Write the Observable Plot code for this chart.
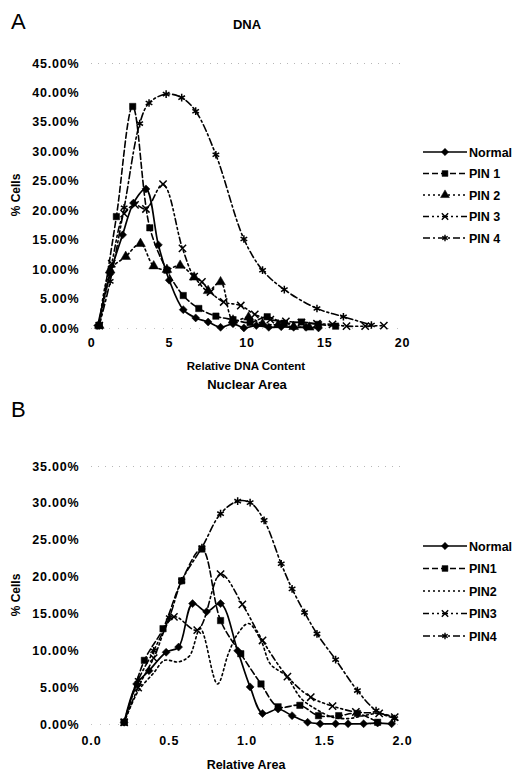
<!DOCTYPE html>
<html>
<head>
<meta charset="utf-8">
<script src="https://cdn.jsdelivr.net/npm/d3@7"></script>
<script src="https://cdn.jsdelivr.net/npm/@observablehq/plot@0.6"></script>
<style>
  html, body { margin: 0; padding: 0; background: #fff; }
  #page { position: relative; width: 521px; height: 777px; background: #fff; overflow: hidden; }
  .plot { position: absolute; left: 0; }
  #overlay { position: absolute; left: 0; top: 0; pointer-events: none; }
  .plot svg text { letter-spacing: 0.8px; }
</style>
</head>
<body>
<div id="page">
  <div id="dna" class="plot" style="top:0px"></div>
  <div id="area" class="plot" style="top:390px"></div>
</div>
<script>
// ---------- Panel A: DNA ----------
const dnaSeries = ["Normal", "PIN 1", "PIN 2", "PIN 3", "PIN 4"];
const dnaTicksX = [0, 5, 10, 15, 20];
const dnaTicksY = [0, 5, 10, 15, 20, 25, 30, 35, 40, 45];

const dnaNormalX = [0.4, 1.2, 2.0, 2.7, 3.5, 4.3, 5.0, 5.9, 6.7, 7.5, 8.3, 9.1, 9.8, 10.6, 11.4, 12.2, 13.0, 13.8, 14.6];
const dnaNormalY = [0.5, 9.3, 15.9, 21.3, 23.7, 14.2, 8.2, 3.2, 1.8, 1.1, 0.2, 0.8, 0.1, 0.5, 0.2, 0.3, 0.2, 0.2, 0.1];

const dnaPin1X = [0.5, 1.6, 2.65, 3.75, 4.85, 5.9, 6.9, 8.0, 9.1, 10.2, 11.3, 12.4, 13.5, 14.6, 15.7];
const dnaPin1Y = [0.5, 19.0, 37.7, 17.1, 9.9, 5.6, 3.4, 2.1, 1.5, 1.0, 2.0, 0.9, 1.1, 0.7, 0.4];

const dnaPin2X = [0.5, 1.2, 2.2, 3.15, 4.0, 4.85, 5.7, 6.6, 7.5, 8.3, 9.1, 10.1, 11.0, 12.0, 13.0, 14.0];
const dnaPin2Y = [0.5, 9.9, 12.2, 14.4, 10.6, 10.0, 10.7, 8.7, 6.4, 7.9, 1.4, 1.9, 0.8, 0.6, 0.3, 0.2];

const dnaPin3X = [0.5, 1.3, 2.1, 2.8, 3.5, 4.6, 5.85, 6.6, 7.1, 7.65, 8.5, 9.6, 10.5, 11.5, 12.5, 13.5, 14.5, 15.5, 16.4, 17.6, 18.8];
const dnaPin3Y = [0.5, 11.0, 19.5, 21.0, 20.3, 24.5, 13.6, 8.8, 7.9, 6.2, 4.5, 3.9, 2.4, 1.5, 1.2, 1.0, 0.8, 0.7, 0.4, 0.4, 0.5];

const dnaPin4X = [0.5, 1.2, 2.1, 3.1, 3.7, 4.8, 5.8, 6.7, 8.0, 9.8, 11.0, 12.4, 14.5, 16.2, 18.0];
const dnaPin4Y = [0.5, 8.0, 20.5, 34.8, 38.3, 39.8, 39.2, 36.9, 29.5, 15.2, 9.9, 6.6, 3.4, 2.0, 0.6];

// ---------- Panel B: Nuclear Area ----------
const areaSeries = ["Normal", "PIN1", "PIN2", "PIN3", "PIN4"];
const areaTicksX = [0, 0.5, 1, 1.5, 2];
const areaTicksY = [0, 5, 10, 15, 20, 25, 30, 35];

const areaNormalX = [0.21, 0.29, 0.37, 0.48, 0.56, 0.65, 0.74, 0.83, 0.94, 1.02, 1.10, 1.20, 1.29, 1.39, 1.47, 1.57, 1.65, 1.75, 1.84, 1.93];
const areaNormalY = [0.3, 5.5, 7.3, 9.8, 10.5, 16.4, 15.3, 16.4, 10.0, 5.1, 1.5, 2.1, 1.2, 0.3, 0.1, 0.1, 0.1, 0.1, 0.2, 0.1];

const areaPin1X = [0.21, 0.34, 0.46, 0.58, 0.71, 0.83, 0.96, 1.09, 1.20, 1.34, 1.46, 1.59, 1.71, 1.84];
const areaPin1Y = [0.3, 8.7, 13.0, 19.5, 23.8, 14.1, 9.6, 5.5, 2.4, 2.6, 1.2, 1.2, 1.5, 0.3];

const areaPin2X = [0.21, 0.30, 0.40, 0.47, 0.56, 0.63, 0.70, 0.81, 0.88, 0.94, 1.01, 1.09, 1.15, 1.25, 1.35, 1.45, 1.55, 1.65, 1.75, 1.85, 1.95];
const areaPin2Y = [0.3, 4.5, 7.0, 8.7, 8.5, 9.3, 13.0, 5.5, 9.6, 12.3, 13.7, 11.4, 8.2, 6.6, 3.5, 2.0, 1.0, 0.8, 1.2, 1.5, 1.0];

const areaPin3X = [0.21, 0.30, 0.40, 0.53, 0.68, 0.83, 0.97, 1.10, 1.26, 1.41, 1.55, 1.70, 1.85, 1.95];
const areaPin3Y = [0.3, 5.0, 9.0, 14.6, 12.8, 20.4, 16.3, 11.4, 6.5, 3.7, 2.5, 1.7, 1.5, 1.0];

const areaPin4X = [0.21, 0.30, 0.40, 0.50, 0.58, 0.71, 0.83, 0.94, 1.02, 1.11, 1.22, 1.29, 1.37, 1.45, 1.57, 1.71, 1.83, 1.95];
const areaPin4Y = [0.3, 6.0, 10.0, 14.5, 19.5, 24.0, 28.6, 30.3, 30.1, 27.7, 21.8, 18.4, 15.2, 12.3, 8.8, 4.6, 1.9, 0.8];

// ---------- styles ----------
const styles = [
  {dash: undefined,          symbol: d3.symbolDiamond2, d3sym: d3.symbolDiamond2, filled: true,  r: 3.6, w: 1.7},
  {dash: "6,3",              symbol: "square",   d3sym: d3.symbolSquare,   filled: true,  r: 3.6, w: 1.6},
  {dash: "2,3",              symbol: "triangle", d3sym: d3.symbolTriangle, filled: true,  r: 3.6, w: 1.6},
  {dash: "6,3,2,3,2,3",      symbol: "times",    d3sym: d3.symbolTimes,    filled: false, r: 3.4, w: 1.6},
  {dash: "7,3,2,3",          symbol: "asterisk", d3sym: d3.symbolAsterisk, filled: false, r: 3.6, w: 1.6}
];

function seriesMarks(xs, ys, st, dots) {
  const d = xs.map((v, i) => ({x: v, y: ys[i]}));
  const m = [Plot.line(d, {x: "x", y: "y", stroke: "black", strokeWidth: st.w,
    strokeDasharray: st.dash, curve: "catmull-rom"})];
  if (dots) {
    m.push(Plot.dot(d, {x: "x", y: "y", symbol: st.symbol, r: st.r,
      fill: st.filled ? "black" : "none", stroke: "black",
      strokeWidth: st.filled ? 0.5 : 1.5}));
  }
  return m;
}

const fontStyle = {fontFamily: "'Liberation Sans', Arial, sans-serif", fontSize: "12.5px", fontWeight: "bold", color: "black", background: "white", overflow: "visible"};

const dnaPlot = Plot.plot({
  width: 521, height: 390,
  marginLeft: 91, marginRight: 119, marginTop: 63, marginBottom: 62,
  style: fontStyle,
  x: {domain: [0, 20], ticks: dnaTicksX, tickSize: 0, tickPadding: 10, label: null},
  y: {domain: [0, 45], ticks: dnaTicksY, tickSize: 0, tickPadding: 12, label: null,
      tickFormat: d => d.toFixed(2) + "%"},
  marks: [
    Plot.ruleY([45], {stroke: "#999", strokeDasharray: "1,6", strokeOpacity: 0.7}),
    Plot.ruleY([0], {stroke: "#999", strokeDasharray: "1,8", strokeOpacity: 0.6}),
    ...seriesMarks(dnaPin4X, dnaPin4Y, styles[4], true),
    ...seriesMarks(dnaPin3X, dnaPin3Y, styles[3], true),
    ...seriesMarks(dnaPin2X, dnaPin2Y, styles[2], true),
    ...seriesMarks(dnaPin1X, dnaPin1Y, styles[1], true),
    ...seriesMarks(dnaNormalX, dnaNormalY, styles[0], true)
  ]
});
document.getElementById("dna").appendChild(dnaPlot);

const areaPlot = Plot.plot({
  width: 521, height: 387,
  marginLeft: 91, marginRight: 119, marginTop: 76, marginBottom: 53,
  style: fontStyle,
  x: {domain: [0, 2], ticks: areaTicksX, tickSize: 0, tickPadding: 12, label: null,
      tickFormat: d => d.toFixed(1)},
  y: {domain: [0, 35], ticks: areaTicksY, tickSize: 0, tickPadding: 12, label: null,
      tickFormat: d => d.toFixed(2) + "%"},
  marks: [
    Plot.ruleY([35], {stroke: "#999", strokeDasharray: "1,6", strokeOpacity: 0.7}),
    Plot.ruleY([0], {stroke: "#999", strokeDasharray: "1,8", strokeOpacity: 0.6}),
    ...seriesMarks(areaPin4X, areaPin4Y, styles[4], true),
    ...seriesMarks(areaPin3X, areaPin3Y, styles[3], true),
    ...seriesMarks(areaPin2X, areaPin2Y, styles[2], false),
    ...seriesMarks(areaPin1X, areaPin1Y, styles[1], true),
    ...seriesMarks(areaNormalX, areaNormalY, styles[0], true)
  ]
});
document.getElementById("area").appendChild(areaPlot);

// ---------- overlay: titles, axis titles, legends ----------
const svg = d3.select("#page").append("svg")
  .attr("id", "overlay").attr("width", 521).attr("height", 777)
  .style("font-family", "'Liberation Sans', Arial, sans-serif");

function txt(x, y, s, opts = {}) {
  const t = svg.append("text").attr("x", x).attr("y", y).text(s)
    .attr("font-size", opts.size || 12)
    .attr("font-weight", opts.weight || "bold")
    .attr("text-anchor", opts.anchor || "start")
    .attr("fill", "black");
  if (opts.rotate) t.attr("transform", `rotate(-90 ${x} ${y})`);
  if (opts.ls) t.attr("letter-spacing", opts.ls);
  return t;
}

// Panel A
txt(11, 29, "A", {size: 22, weight: "normal"});
txt(247, 29, "DNA", {size: 13, anchor: "middle"});
txt(20, 195, "% Cells", {size: 12, anchor: "middle", rotate: true});
txt(246, 370, "Relative DNA Content", {size: 11.5, anchor: "middle"});

// Panel B
txt(11, 417, "B", {size: 22, weight: "normal"});
txt(247, 389, "Nuclear Area", {size: 13, anchor: "middle"});
txt(20, 595, "% Cells", {size: 12, anchor: "middle", rotate: true});
txt(246, 769, "Relative Area", {size: 12.5, anchor: "middle"});

function legend(names, y0, step, dotsFor) {
  names.forEach((name, i) => {
    const st = styles[i];
    const y = y0 + i * step;
    svg.append("line").attr("x1", 423).attr("x2", 467).attr("y1", y).attr("y2", y)
      .attr("stroke", "black").attr("stroke-width", st.w)
      .attr("stroke-dasharray", st.dash || null);
    if (dotsFor[i]) {
      svg.append("path")
        .attr("d", d3.symbol(st.d3sym, st.filled ? 34 : 28)())
        .attr("transform", `translate(445,${y})`)
        .attr("fill", st.filled ? "black" : "none")
        .attr("stroke", "black").attr("stroke-width", st.filled ? 0.5 : 1.4);
    }
    txt(469, y + 4.5, name, {size: 12.5});
  });
}
legend(dnaSeries, 152, 21.5, [true, true, true, true, true]);
legend(areaSeries, 546, 22.5, [true, true, false, true, true]);
</script>
</body>
</html>
